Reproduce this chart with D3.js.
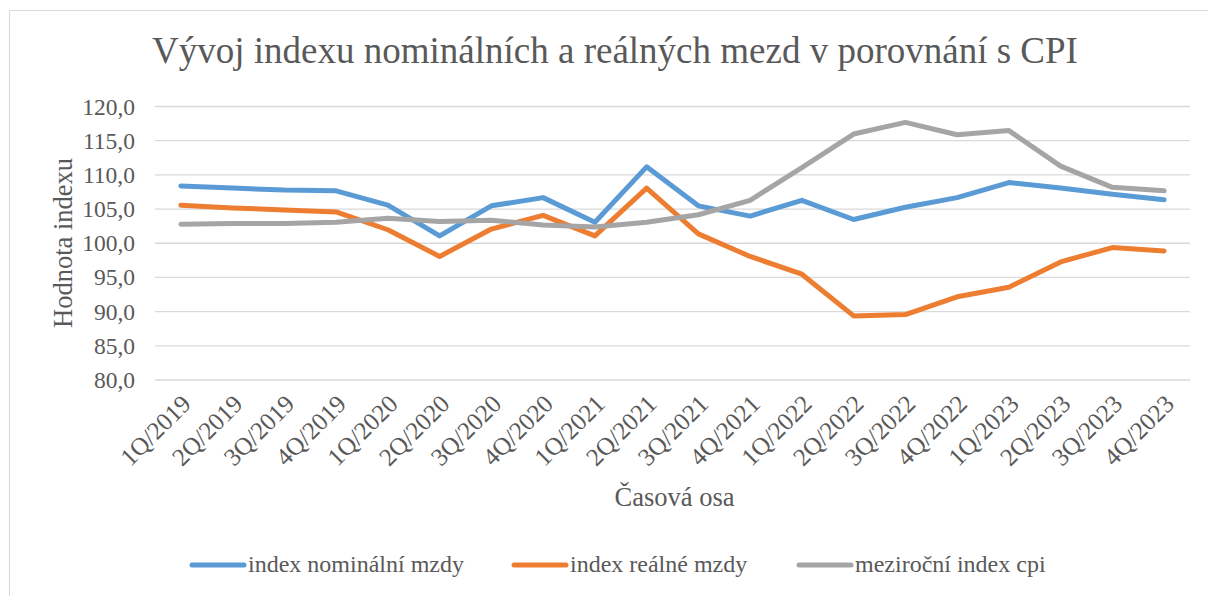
<!DOCTYPE html>
<html>
<head>
<meta charset="utf-8">
<script src="https://cdn.jsdelivr.net/npm/d3@7"></script>
<style>
  body { margin: 0; background: #fff; }
</style>
</head>
<body>
<svg id="chart" width="1208" height="596"></svg>
<script>
const quarters = ["1Q/2019", "2Q/2019", "3Q/2019", "4Q/2019", "1Q/2020", "2Q/2020", "3Q/2020", "4Q/2020",
                  "1Q/2021", "2Q/2021", "3Q/2021", "4Q/2021", "1Q/2022", "2Q/2022", "3Q/2022", "4Q/2022",
                  "1Q/2023", "2Q/2023", "3Q/2023", "4Q/2023"];
const nominal = [108.3, 108.0, 107.7, 107.6, 105.5, 101.0, 105.4, 106.6, 103.0, 111.1,
                 105.4, 103.9, 106.2, 103.4, 105.2, 106.6, 108.8, 108.0, 107.1, 106.3];
const real = [105.5, 105.1, 104.8, 104.5, 101.9, 98.0, 102.0, 104.0, 101.0, 108.0,
              101.3, 98.0, 95.4, 89.3, 89.5, 92.1, 93.5, 97.2, 99.3, 98.8];
const cpi = [102.7, 102.8, 102.8, 103.0, 103.6, 103.1, 103.3, 102.6, 102.3, 103.0,
             104.1, 106.2, 111.0, 115.9, 117.6, 115.8, 116.4, 111.2, 108.1, 107.6];
const yTicks = [80, 85, 90, 95, 100, 105, 110, 115, 120];
const seriesNames = ["index nominální mzdy", "index reálné mzdy", "meziroční index cpi"];
const seriesColors = ["#5B9BD5", "#ED7D31", "#A5A5A5"];

const serif = "'Liberation Serif', 'Times New Roman', serif";
const textColor = "#595959";

const svg = d3.select("#chart");
const plot = { left: 155, right: 1190, top: 106, bottom: 379.5 };

// outer chart frame
svg.append("rect")
    .attr("x", 9.5).attr("y", 10.5)
    .attr("width", 1210).attr("height", 600)
    .attr("fill", "none").attr("stroke", "#d9d9d9");

const x = d3.scalePoint().domain(quarters).range([plot.left, plot.right]).padding(0.5);
const y = d3.scaleLinear().domain([80, 120]).range([plot.bottom, plot.top]);

// title
svg.append("text")
    .attr("x", 615).attr("y", 63)
    .attr("text-anchor", "middle")
    .style("font-family", serif).style("font-size", "37px").attr("fill", textColor)
    .text("Vývoj indexu nominálních a reálných mezd v porovnání s CPI");

// gridlines + y labels
const yAxis = d3.axisLeft(y).tickValues(yTicks).tickSize(-(plot.right - plot.left)).tickPadding(20)
    .tickFormat(d => d3.format(".1f")(d).replace(".", ","));
const gy = svg.append("g").attr("transform", `translate(${plot.left},0)`).call(yAxis);
gy.select(".domain").remove();
gy.selectAll("line").attr("stroke", "#d9d9d9").attr("stroke-width", 1.3);
gy.selectAll("text")
    .style("font-family", serif).style("font-size", "23.5px")
    .attr("fill", textColor).attr("dy", "0.34em");

// x labels
const xAxis = d3.axisBottom(x).tickSize(0).tickPadding(0);
const gx = svg.append("g").attr("transform", `translate(0,${plot.bottom})`).call(xAxis);
gx.select(".domain").remove();
gx.selectAll("text")
    .style("font-family", serif).style("font-size", "25px")
    .attr("fill", textColor)
    .attr("text-anchor", "end")
    .attr("dy", 0)
    .attr("transform", "translate(11,26) rotate(-45)");

// axis titles
svg.append("text")
    .attr("transform", "translate(72,243) rotate(-90)")
    .attr("text-anchor", "middle")
    .style("font-family", serif).style("font-size", "26.5px").attr("fill", textColor)
    .text("Hodnota indexu");
svg.append("text")
    .attr("x", (plot.left + plot.right) / 2 + 2).attr("y", 506)
    .attr("text-anchor", "middle")
    .style("font-family", serif).style("font-size", "26.5px").attr("fill", textColor)
    .text("Časová osa");

// lines
const line = d3.line().x((d, i) => x(quarters[i])).y(d => y(d));
[nominal, real, cpi].forEach((vals, i) => {
    svg.append("path")
        .datum(vals)
        .attr("d", line)
        .attr("fill", "none")
        .attr("stroke", seriesColors[i])
        .attr("stroke-width", 5)
        .attr("stroke-linejoin", "round")
        .attr("stroke-linecap", "round");
});

// legend
const legendX = [190, 512, 797];
const lg = svg.append("g").selectAll("g").data(seriesNames).join("g")
    .attr("transform", (d, i) => `translate(${legendX[i]},565)`);
lg.append("line")
    .attr("x1", 2).attr("x2", 54).attr("y1", 0).attr("y2", 0)
    .attr("stroke", (d, i) => seriesColors[i])
    .attr("stroke-width", 5)
    .attr("stroke-linecap", "round");
lg.append("text")
    .attr("x", 58).attr("y", 7)
    .style("font-family", serif).style("font-size", "24px").attr("fill", textColor)
    .text(d => d);
</script>
</body>
</html>
